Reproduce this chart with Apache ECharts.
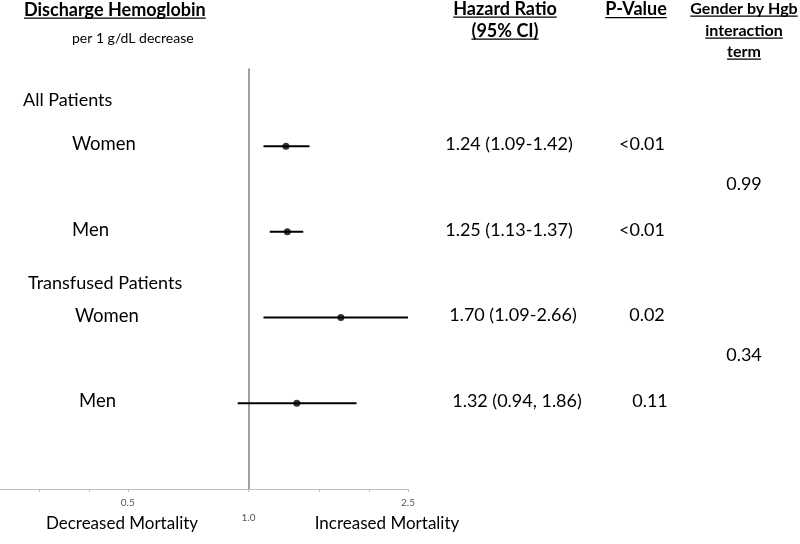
<!DOCTYPE html>
<html><head><meta charset="utf-8">
<script src="https://cdn.jsdelivr.net/npm/echarts@6/dist/echarts.min.js"></script>
<style>html,body{margin:0;padding:0;background:#fff}#c{width:800px;height:544px}</style>
</head><body><div id="c"></div>
<script>
// ---- data ----
const groupLabels = ['All Patients', 'Transfused Patients'];
const rowLabels = ['Women', 'Men', 'Women', 'Men'];
const rowIndex = [1, 2, 3, 4];
const hazard = [1.24, 1.25, 1.70, 1.32];
const ciLow = [1.09, 1.13, 1.09, 0.94];
const ciHigh = [1.42, 1.37, 2.66, 1.86];
const hrText = ['1.24 (1.09-1.42)', '1.25 (1.13-1.37)', '1.70 (1.09-2.66)', '1.32 (0.94, 1.86)'];
const pText = ['<0.01', '<0.01', '0.02', '0.11'];
const interactionText = ['0.99', '0.34'];
const tickValues = [0.3, 0.4, 0.5, 1.0, 1.5, 2.0, 2.5];
const tickLabelValues = [0.5, 2.5];
const refLabelValues = [1.0];
const axisMinHR = 0.24, axisMaxHR = 2.5;

// ---- layout (pixels) ----
const FONT = 'Lato, "Open Sans", sans-serif';
const L = {
  rowLabelX: [72, 72, 75, 79],
  groupX: [23, 28], groupY: [100, 283],
  hrX: [509, 509, 513, 517], pX: [642, 642, 647, 650], interX: 744,
  textDy: -2, interDy: -5
};

const lg = v => Math.log10(v);
const chart = echarts.init(document.getElementById('c'), null, {renderer: 'canvas'});

const option = {
  animation: false,
  backgroundColor: '#fff',
  grid: {left: 0, right: 392, top: 69, bottom: 55, containLabel: false},
  xAxis: [{
    type: 'value', min: lg(axisMinHR), max: lg(axisMaxHR), position: 'bottom',
    splitLine: {show: false},
    axisLine: {show: true, onZero: false, lineStyle: {color: '#bfbfbf', width: 1}},
    axisTick: {show: true, inside: false, length: 3, customValues: tickValues.map(lg), lineStyle: {color: '#bfbfbf'}},
    axisLabel: {show: true, margin: 9, customValues: tickLabelValues.map(lg), color: '#595959', fontSize: 10, fontFamily: FONT,
      formatter: v => Math.pow(10, v).toFixed(1)}
  }, {
    type: 'value', min: lg(axisMinHR), max: lg(axisMaxHR), position: 'bottom',
    splitLine: {show: false}, axisLine: {show: false, onZero: false}, axisTick: {show: false},
    axisLabel: {show: true, margin: 24, customValues: refLabelValues.map(lg), color: '#595959', fontSize: 10, fontFamily: FONT,
      formatter: v => Math.pow(10, v).toFixed(1)}
  }],
  yAxis: {
    type: 'value', inverse: true, min: 0.1, max: 5,
    splitLine: {show: false}, axisTick: {show: false}, axisLabel: {show: false},
    axisLine: {show: true, onZero: true, lineStyle: {color: '#808080', width: 1.5}}
  },
  series: [{
    type: 'custom',
    data: rowIndex.map((r, i) => [lg(ciLow[i]), lg(ciHigh[i]), r]),
    encode: {x: [0, 1], y: 2},
    renderItem: (params, api) => {
      const a = api.coord([api.value(0), api.value(2)]);
      const b = api.coord([api.value(1), api.value(2)]);
      const cs = params.coordSys;
      const x1 = Math.max(a[0], cs.x), x2 = Math.min(b[0], cs.x + cs.width);
      return {type: 'line', shape: {x1: x1, y1: a[1], x2: x2, y2: a[1]},
        style: {stroke: '#000', lineWidth: 2}};
    },
    z: 3
  }, {
    type: 'scatter',
    data: rowIndex.map((r, i) => [lg(hazard[i]), r]),
    symbol: 'circle', symbolSize: 7,
    itemStyle: {color: '#000'}, z: 4
  }]
};
chart.setOption(option);

// ---- texts ----
const ctx = document.createElement('canvas').getContext('2d');
function tw(text, size, bold) { ctx.font = (bold ? 'bold ' : '') + size + 'px ' + FONT; return ctx.measureText(text).width; }
const g = [];
function txt(text, x, y, size, opts) {
  opts = opts || {};
  g.push({type: 'text', x: x, y: y, z: 10, style: {text: text, fontSize: size, fontFamily: FONT,
    fontWeight: opts.bold ? 'bold' : 'normal', fill: '#000', align: opts.align || 'left', verticalAlign: 'middle'}});
  if (opts.underline) {
    const w = tw(text, size, opts.bold);
    const x0 = opts.align === 'center' ? x - w / 2 : x;
    const uy = y + size * 0.45;
    g.push({type: 'line', z: 10, shape: {x1: x0, y1: uy, x2: x0 + w, y2: uy}, style: {stroke: '#000', lineWidth: 1.3}});
  }
}
// headers
txt('Discharge Hemoglobin', 24, 10, 18, {bold: true, underline: true});
txt('per 1 g/dL decrease', 72, 38, 14);
txt('Hazard Ratio', 505, 9, 18, {bold: true, underline: true, align: 'center'});
txt('(95% CI)', 505, 31, 18, {bold: true, underline: true, align: 'center'});
txt('P-Value', 636, 9.5, 18, {bold: true, underline: true, align: 'center'});
txt('Gender by Hgb', 744, 9, 16, {bold: true, underline: true, align: 'center'});
txt('interaction', 744, 31, 16, {bold: true, underline: true, align: 'center'});
txt('term', 744, 52, 16, {bold: true, underline: true, align: 'center'});
// group labels
groupLabels.forEach((s, i) => txt(s, L.groupX[i], L.groupY[i], 18));
// row texts
rowIndex.forEach((r, i) => {
  const y = chart.convertToPixel({gridIndex: 0}, [0, r])[1] + L.textDy;
  txt(rowLabels[i], L.rowLabelX[i], y, 18.5);
  txt(hrText[i], L.hrX[i], y, 18, {align: 'center'});
  txt(pText[i], L.pX[i], y, 18, {align: 'center'});
});
interactionText.forEach((s, k) => {
  const yMid = (rowIndex[2 * k] + rowIndex[2 * k + 1]) / 2;
  const y = chart.convertToPixel({gridIndex: 0}, [0, yMid])[1] + L.interDy;
  txt(s, L.interX, y, 18, {align: 'center'});
});
// bottom captions
txt('Decreased Mortality', 122, 524, 17, {align: 'center'});
txt('Increased Mortality', 387, 524, 17, {align: 'center'});
chart.setOption({graphic: g});
</script></body></html>
